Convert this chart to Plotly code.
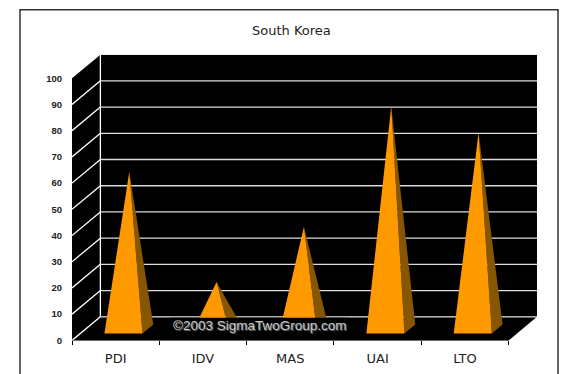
import plotly.graph_objects as go

# Data
categories = ["PDI", "IDV", "MAS", "UAI", "LTO"]
values = [60, 18, 39, 85, 75]
y_ticks = list(range(0, 101, 10))
title_text = "South Korea"
watermark = "©2003 SigmaTwoGroup.com"

# Projection of the pseudo-3D depth, in axis units
DX, DY = 0.325, 9.0
W = 561
H = 374
X0, X1 = 72, 537
Y0, YT = 345, 55.4
ORANGE, BROWN = "#ff9900", "#875600"
GRID_BACK, GRID_WALL = "#dcdcdc", "#ffffff"

n = len(categories)
xmin, xmax = -0.5, n - 0.5
fig = go.Figure()


def poly(xs, ys, color):
    fig.add_trace(go.Scatter(x=xs, y=ys, mode="lines", fill="toself", fillcolor=color,
                             line=dict(width=0, color=color),
                             hoverinfo="skip", showlegend=False))


def seg(xs, ys, color, width=1.3):
    fig.add_trace(go.Scatter(x=xs, y=ys, mode="lines", line=dict(width=width, color=color),
                             hoverinfo="skip", showlegend=False))


top = y_ticks[-1]
# back wall, left wall, floor
poly([xmin + DX, xmax + DX, xmax + DX, xmin + DX, xmin + DX], [DY, DY, top + DY, top + DY, DY], "#000000")
poly([xmin, xmin + DX, xmin + DX, xmin, xmin], [0, DY, top + DY, top, 0], "#000000")
poly([xmin, xmax, xmax + DX, xmin + DX, xmin], [0, 0, DY, DY, 0], "#000000")

# gridlines
for v in y_ticks[:-1]:
    seg([xmin + DX, xmax + DX], [v + DY, v + DY], GRID_BACK)
    seg([xmin, xmin + DX], [v, v + DY], GRID_WALL)
seg([xmin + DX, xmin + DX], [DY, top + DY], GRID_WALL)
seg([xmin, xmax], [0, 0], "#000000", 1)

# pyramids
HALF = 0.218
D_FRONT, D_MID, D_BACK = 0.29, 0.48, 0.67
for i, v in enumerate(values):
    cf = i + D_FRONT * DX - 0.005
    yf = D_FRONT * DY
    ax, ay = i + D_MID * DX, D_MID * DY + v
    bx = cf + HALF + (D_BACK - D_FRONT) * DX
    by = D_BACK * DY
    poly([cf + HALF, bx, ax, cf + HALF], [yf, by, ay, yf], BROWN)
    poly([cf - HALF, cf + HALF, ax, cf - HALF], [yf, yf, ay, yf], ORANGE)

fig.update_layout(
    width=W, height=H, margin=dict(l=0, r=0, t=0, b=0),
    paper_bgcolor="#ffffff", plot_bgcolor="rgba(0,0,0,0)", showlegend=False,
    xaxis=dict(domain=[X0 / W, X1 / W], range=[xmin, xmax + DX], tickmode="array",
               tickvals=list(range(n)), ticktext=categories, ticks="", ticklabelstandoff=9,
               tickfont=dict(family="DejaVu Sans", size=13, color="#222222"),
               showgrid=False, zeroline=False, showline=False,
               minor=dict(tickmode="array", tickvals=[xmin + k for k in range(n + 1)],
                          ticks="outside", ticklen=4, tickcolor="#000000", tickwidth=1, showgrid=False)),
    yaxis=dict(domain=[1 - Y0 / H, 1 - YT / H], range=[0, top + DY], tickmode="array",
               tickvals=y_ticks, ticks="outside", ticklen=7, tickcolor="rgba(0,0,0,0)",
               tickfont=dict(family="Liberation Sans", size=9.5, color="#222222", weight=700),
               showgrid=False, zeroline=False, showline=False),
    shapes=[
        dict(type="rect", xref="paper", yref="paper", x0=20 / W, x1=558 / W, y0=-0.05, y1=1 - 10 / H,
             line=dict(color="#333333", width=1.5), fillcolor="rgba(0,0,0,0)", layer="below"),
        dict(type="rect", xref="paper", yref="paper", x0=170 / W, x1=349 / W, y0=1 - 340 / H, y1=1 - 322 / H,
             line=dict(width=0), fillcolor="#000000", layer="above"),
    ],
    annotations=[
        dict(text=title_text, xref="paper", yref="paper", x=291 / W, y=1 - 31 / H, showarrow=False,
             xanchor="center", yanchor="middle",
             font=dict(family="DejaVu Sans", size=13, color="#222222")),
        dict(text=watermark, xref="paper", yref="paper", x=260 / W, y=1 - 330 / H, showarrow=False,
             xanchor="center", yanchor="middle",
             font=dict(family="Liberation Sans", size=13.5, color="#c8c8c8", shadow="1px 1px 1px #777777")),
    ],
)
fig.write_html("out.html", config={"displayModeBar": False},
               post_script="document.body.style.margin='0';")
